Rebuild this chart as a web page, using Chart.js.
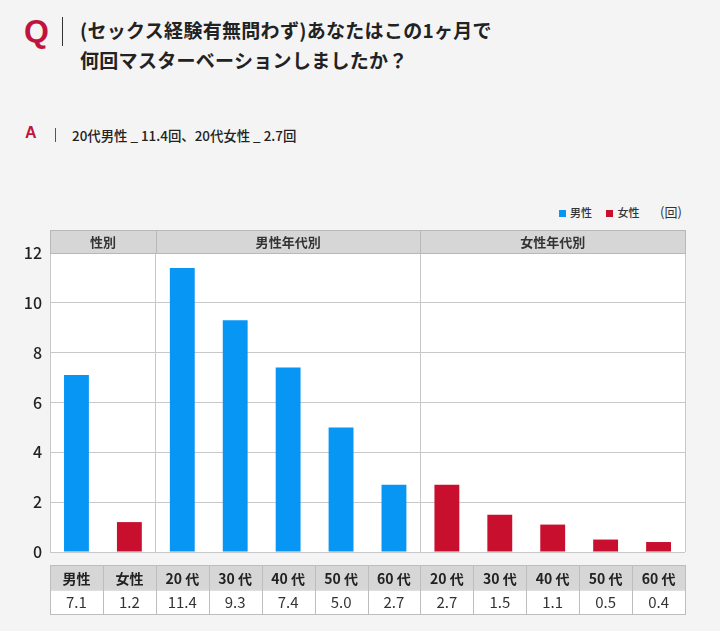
<!DOCTYPE html>
<html>
<head>
<meta charset="utf-8">
<script src="https://cdn.jsdelivr.net/npm/chart.js@4/dist/chart.umd.min.js"></script>
<style>
  html, body { margin: 0; padding: 0; background: #f4f4f4; }
  body { width: 720px; height: 631px; position: relative; overflow: hidden;
         font-family: "Noto Sans CJK JP", "Noto Sans", sans-serif; color: #222; }
  .q-mark { position: absolute; left: 24px; top: 13px; font: bold 32px "Liberation Sans", Arial, sans-serif; color: #c0143c; }
  .q-bar { position: absolute; left: 62px; top: 17px; width: 1px; height: 29px; background: #333; }
  .q-text { position: absolute; left: 80px; top: 15px; font-size: 19px; font-weight: 700; line-height: 30px; letter-spacing: 0.3px; }
  .a-mark { position: absolute; left: 25px; top: 124px; font: bold 16px "Liberation Sans", Arial, sans-serif; color: #c0143c; }
  .a-bar { position: absolute; left: 55px; top: 128px; width: 1px; height: 14px; background: #555; }
  .a-text { position: absolute; left: 72px; top: 125px; font-size: 13.4px; font-weight: 500; }
  .legend { position: absolute; top: 204px; left: 559px; font-size: 11px; font-weight: 500; color: #333; }
  .legend span.sw { display: inline-block; width: 7px; height: 7px; margin-right: 4px; vertical-align: 0px; }
  .legend .item { margin-right: 12px; }
  .unit { position: absolute; top: 202px; left: 660px; font-size: 13px; color: #333; }
  #wrap { position: absolute; left: 0; top: 190px; width: 720px; height: 441px; }
</style>
</head>
<body>
<div class="q-mark">Q</div>
<div class="q-bar"></div>
<div class="q-text">(セックス経験有無問わず)あなたはこの1ヶ月で<br>何回マスターベーションしましたか？</div>
<div class="a-mark">A</div>
<div class="a-bar"></div>
<div class="a-text">20代男性 _ 11.4回、20代女性 _ 2.7回</div>
<div class="legend">
  <span class="item"><span class="sw" style="background:#0896f5"></span>男性</span>
  <span class="item"><span class="sw" style="background:#c8102e"></span>女性</span>
</div>
<div class="unit">(回)</div>
<div id="wrap"><canvas id="chart"></canvas></div>
<script>
// categories (table header row)
const categories = ['男性', '女性', '20 代', '30 代', '40 代', '50 代', '60 代', '20 代', '30 代', '40 代', '50 代', '60 代'];
// series values (null where the other series owns the column)
const maleValues = [7.1, null, 11.4, 9.3, 7.4, 5.0, 2.7, null, null, null, null, null];
const femaleValues = [null, 1.2, null, null, null, null, null, 2.7, 1.5, 1.1, 0.5, 0.4];
// group header band
const sectionLabels = ['性別', '男性年代別', '女性年代別'];
const sectionSpans = [2, 5, 5];
const yTicks = [0, 2, 4, 6, 8, 10, 12];

const BLUE = '#0896f5';
const RED = '#c8102e';
const LINE = '#c8c8c8';
const BAND = '#d6d6d6';

// vertical lines between sections
const sectionStarts = [];
sectionSpans.reduce((acc, n) => { sectionStarts.push(acc); return acc + n; }, 0);

const frame = {
  id: 'frame',
  beforeDraw(chart) {
    const { ctx, chartArea: a } = chart;
    ctx.save();
    ctx.fillStyle = '#fff';
    ctx.fillRect(a.left, a.top, a.right - a.left, a.bottom - a.top);
    ctx.restore();
  },
  afterDraw(chart) {
    const { ctx, chartArea: a, scales } = chart;
    const x = scales.x;
    const colW = (a.right - a.left) / categories.length;
    const edge = i => a.left + colW * i;
    ctx.save();
    ctx.strokeStyle = LINE;
    ctx.lineWidth = 1;
    // right border
    ctx.beginPath();
    ctx.moveTo(Math.round(a.right) + 0.5, a.top);
    ctx.lineTo(Math.round(a.right) + 0.5, a.bottom);
    ctx.stroke();

    // header band
    const bandTop = a.top - 23;
    ctx.fillStyle = BAND;
    ctx.fillRect(a.left, bandTop, a.right - a.left, 23);
    ctx.strokeStyle = '#b8b8b8';
    ctx.strokeRect(a.left + 0.5, bandTop + 0.5, a.right - a.left, 23);
    ctx.font = '700 13px "Noto Sans CJK JP"';
    ctx.fillStyle = '#333';
    ctx.textAlign = 'center';
    ctx.textBaseline = 'middle';
    sectionLabels.forEach((lab, i) => {
      const s = sectionStarts[i], n = sectionSpans[i];
      const l = edge(s), r = edge(s + n);
      if (i > 0) {
        ctx.beginPath();
        ctx.moveTo(Math.round(l) + 0.5, bandTop);
        ctx.lineTo(Math.round(l) + 0.5, a.top);
        ctx.stroke();
      }
      ctx.fillText(lab, (l + r) / 2, bandTop + 12);
    });

    // data table under the chart
    const t0 = a.bottom + 13, rh = 24.5;
    ctx.fillStyle = BAND;
    ctx.fillRect(a.left, t0, a.right - a.left, rh);
    ctx.fillStyle = '#fff';
    ctx.fillRect(a.left, t0 + rh, a.right - a.left, rh);
    ctx.strokeStyle = '#bdbdbd';
    ctx.strokeRect(a.left + 0.5, t0 + 0.5, a.right - a.left, rh * 2);
    ctx.beginPath();
    ctx.moveTo(a.left, t0 + rh + 0.5);
    ctx.lineTo(a.right, t0 + rh + 0.5);
    ctx.stroke();
    categories.forEach((c, i) => {
      if (i > 0) {
        ctx.beginPath();
        ctx.moveTo(Math.round(edge(i)) + 0.5, t0);
        ctx.lineTo(Math.round(edge(i)) + 0.5, t0 + rh * 2);
        ctx.stroke();
      }
      const cx = x.getPixelForValue(i);
      const v = maleValues[i] != null ? maleValues[i] : femaleValues[i];
      ctx.fillStyle = '#222';
      ctx.font = '700 14px "Noto Sans CJK JP"';
      ctx.fillText(c, cx, t0 + rh / 2 + 1);
      ctx.fillStyle = '#333';
      ctx.font = '400 15px "Noto Sans CJK JP"';
      ctx.fillText(v.toFixed(1), cx, t0 + rh * 1.5 + 1);
    });
    ctx.restore();
  }
};

new Chart(document.getElementById('chart'), {
  type: 'bar',
  data: {
    labels: categories,
    datasets: [
      { label: '男性', data: maleValues, backgroundColor: BLUE, skipNull: true },
      { label: '女性', data: femaleValues, backgroundColor: RED, skipNull: true }
    ]
  },
  options: {
    responsive: true,
    maintainAspectRatio: false,
    animation: false,
    layout: { padding: { left: 0, right: 35, top: 63, bottom: 79 } },
    datasets: { bar: { barPercentage: 0.47, categoryPercentage: 1 } },
    plugins: { legend: { display: false }, tooltip: { enabled: false } },
    scales: {
      x: {
        ticks: { display: false },
        grid: {
          offset: true,
          drawTicks: false,
          color: ctx => sectionStarts.includes(ctx.index) && ctx.index > 0 ? LINE : 'rgba(0,0,0,0)'
        },
        border: { display: false }
      },
      y: {
        min: 0,
        max: 12,
        afterFit: s => { s.width = 50; },
        afterBuildTicks: s => { s.ticks = yTicks.map(v => ({ value: v })); },
        ticks: {
          padding: 8,
          color: '#222',
          font: { family: '"Noto Sans CJK JP"', size: 16, weight: '500' }
        },
        grid: { color: LINE, drawTicks: false },
        border: { color: LINE }
      }
    }
  },
  plugins: [frame]
});
</script>
</body>
</html>
